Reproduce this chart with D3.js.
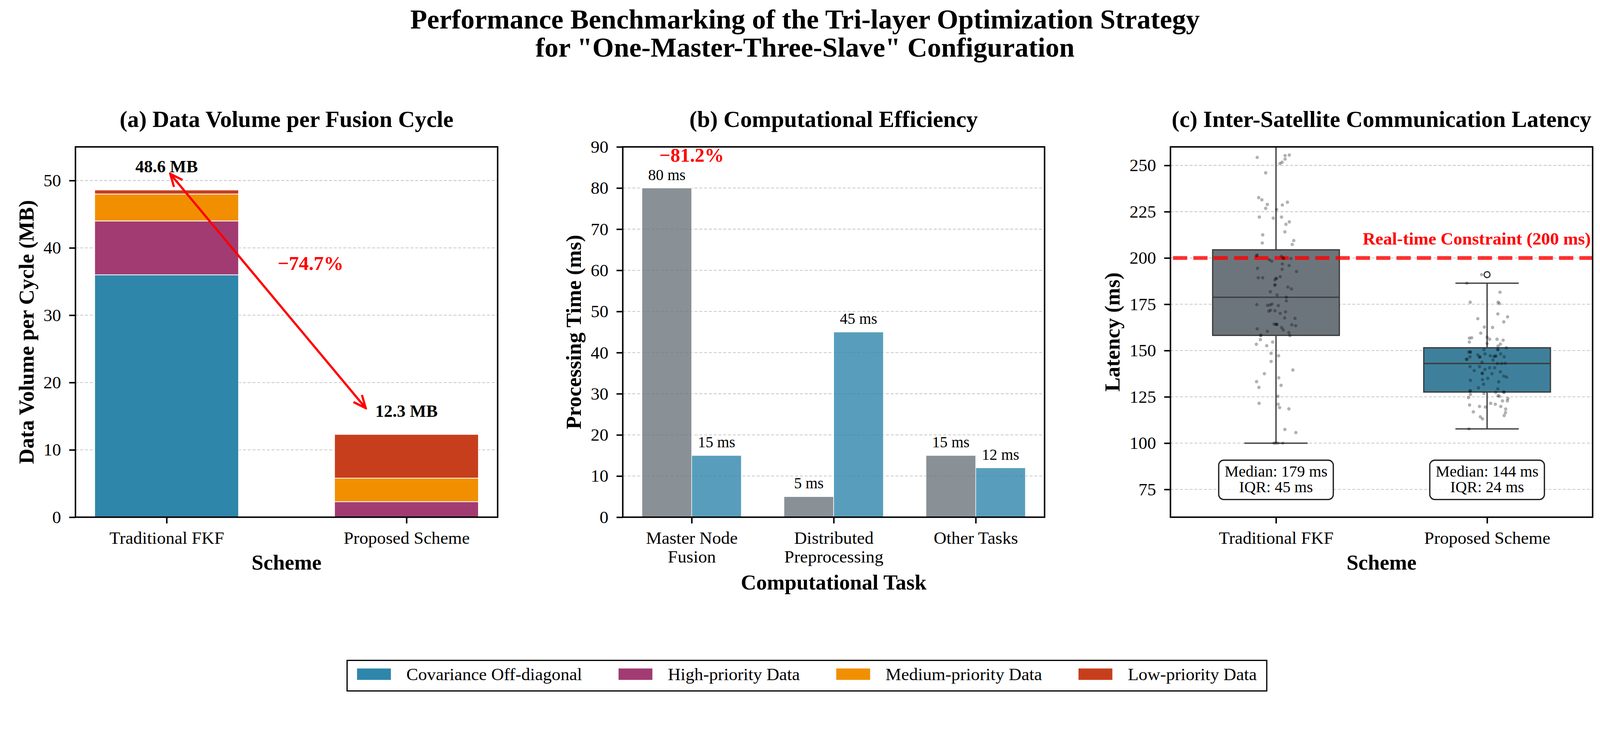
<!DOCTYPE html>
<html>
<head>
<meta charset="utf-8">
<script src="https://cdn.jsdelivr.net/npm/d3@7"></script>
<style>
html, body { margin: 0; padding: 0; background: #fff; overflow: hidden; }
#viz { display: block; width: 100vw; height: auto; aspect-ratio: 4347 / 1907; }
svg text { font-family: 'Liberation Serif', 'Times New Roman', serif; }
</style>
</head>
<body>
<svg id="viz"></svg>
<script>
// ---- data ----
const schemes = ["Traditional FKF", "Proposed Scheme"];
const dataTypes = ["Covariance Off-diagonal", "High-priority Data", "Medium-priority Data", "Low-priority Data"];
const typeColors = ["#2E86AB", "#A23B72", "#F18F01", "#C73E1D"];
const volTraditional = [36, 8, 4, 0.6];
const volProposed = [0, 2.3, 3.5, 6.5];
const volTotals = [48.6, 12.3];
const volTicks = [0, 10, 20, 30, 40, 50];
const volReduction = "\u221274.7%";
const arrowFrom = [0.015, 51];
const arrowTo = [0.83, 16.2];
const reductionPosA = [0.6, 37.7];

const tasks = [["Master Node", "Fusion"], ["Distributed", "Preprocessing"], ["Other Tasks"]];
const timeTraditional = [80, 5, 15];
const timeProposed = [15, 45, 12];
const timeTicks = [0, 10, 20, 30, 40, 50, 60, 70, 80, 90];
const timeReduction = "\u221281.2%";
const reductionPosB = [0, 88];

// latency samples, with their horizontal jitter
const latTrad = [254.3, 255.3, 255.6, 253.4, 251.7, 251.0, 246.0, 232.6, 231.4, 230.1, 228.9, 228.6, 226.8, 226.2,
  222.1, 221.5, 222.1, 219.5, 218.2, 214.1, 212.5, 208.1, 209.4, 207.3, 201.3, 199.0, 198.3, 200.9, 199.9, 199.7,
  196.8, 195.9, 194.4, 193.9, 192.7, 189.3, 189.3, 189.9, 188.9, 188.1, 185.3, 184.3, 183.3, 181.8, 180.0, 178.8,
  176.8, 174.8, 174.4, 174.6, 175.1, 174.3, 171.3, 171.8, 171.5, 170.1, 170.9, 167.6, 167.4, 164.3, 164.1, 164.1,
  163.9, 163.4, 162.4, 161.1, 161.7, 160.4, 159.7, 158.1, 158.1, 155.9, 153.4, 152.6, 154.6, 148.5, 147.2, 144.1,
  139.5, 137.5, 135.3, 133.2, 131.2, 130.1, 125.3, 121.5, 121.0, 119.2, 118.5, 107.4, 105.7, 100, 100, 100, 100,
  263, 266, 201.5, 199.8, 189.0, 185.5, 164.2, 158.3];
const jitTrad = [-0.089, 0.043, 0.063, 0.043, 0.029, 0.019, -0.049, -0.082, -0.067, 0.054, -0.041, 0.030, -0.049, 0.003,
  -0.079, -0.013, 0.026, 0.063, 0.047, 0.042, -0.063, -0.065, 0.084, 0.077, -0.092, -0.031, -0.020, 0.026, 0.034, 0.071,
  0.030, 0.062, -0.088, 0.029, 0.097, -0.084, -0.063, 0.020, 0.000, -0.006, -0.006, 0.056, 0.073, -0.027, 0.005, 0.049,
  0.049, -0.091, -0.040, -0.028, -0.019, 0.011, -0.034, -0.026, -0.005, 0.020, 0.045, 0.041, 0.090, -0.009, 0.000, 0.005,
  0.075, 0.093, 0.027, 0.034, -0.089, -0.041, 0.061, 0.066, -0.073, -0.074, -0.093, -0.044, -0.016, -0.023, 0.012, -0.023,
  0.080, -0.055, 0.013, -0.092, 0.024, -0.081, 0.009, -0.080, 0.010, 0.017, 0.061, 0.042, 0.094, -0.010, -0.002, 0.009, 0.032,
  0.020, -0.050, -0.090, 0.036, 0.002, -0.004, 0.002, -0.071];
const latProp = [191.0, 186.4, 181.5, 176.1, 176.1, 175.4, 169.8, 168.2, 167.2, 165.5, 162.7, 162.5, 159.4, 157.2,
  156.7, 156.9, 156.1, 156.1, 155.6, 154.6, 153.8, 153.5, 152.4, 151.5, 150.5, 150.5, 149.2, 149.2, 148.2, 148.2,
  147.6, 146.5, 147.2, 146.8, 147.0, 146.6, 146.6, 145.3, 144.9, 143.7, 143.0, 143.0, 143.1, 141.3, 141.3, 140.7,
  140.7, 139.2, 137.7, 137.5, 138.5, 136.2, 135.7, 133.9, 134.3, 131.8, 133.1, 129.9, 129.3, 128.1, 127.4, 127.4,
  126.3, 126.8, 124.6, 125.6, 125.3, 124.1, 122.8, 122.8, 120.6, 119.8, 119.5, 121.5, 121.0, 119.8, 118.4, 116.5,
  114.9, 116.9, 114.2, 113.1, 107.7,
  145.3, 146.5, 137.7, 149.2, 150.5, 147.0, 127.6, 128.3, 135.0, 139.8];
const jitProp = [-0.026, -0.096, 0.061, -0.080, 0.052, 0.058, 0.051, 0.097, -0.044, 0.079, -0.013, 0.026, -0.030, 0.000,
  -0.084, -0.073, 0.012, 0.047, 0.076, -0.084, 0.000, 0.063, 0.052, 0.091, -0.015, 0.052, -0.087, -0.079, -0.010, 0.064,
  -0.044, -0.035, 0.015, 0.032, 0.041, -0.081, 0.081, -0.098, 0.028, -0.024, 0.049, 0.069, 0.086, -0.081, -0.036, 0.012,
  0.036, -0.061, -0.024, 0.023, 0.063, 0.079, 0.092, -0.079, -0.022, -0.017, 0.055, -0.041, 0.051, -0.080, 0.080, 0.041,
  -0.079, -0.015, -0.088, 0.052, 0.058, 0.098, 0.073, 0.096, -0.083, -0.036, -0.008, 0.017, 0.039, 0.065, 0.088, 0.087,
  0.081, -0.065, -0.032, -0.022, -0.086,
  -0.095, -0.034, -0.022, -0.080, 0.050, 0.040, 0.079, -0.080, 0.003, -0.010];
const boxColors = ["#6D757C", "#3E809B"];
const latTicks = [75, 100, 125, 150, 175, 200, 225, 250];
const constraint = 200;
const constraintLabel = "Real-time Constraint (200 ms)";
const statLabels = [["Median: 179 ms", "IQR: 45 ms"], ["Median: 144 ms", "IQR: 24 ms"]];
const statY = 80;

// ---- drawing ----
const W = 4347, H = 1907;
const svg = d3.select("#viz").attr("viewBox", `0 0 ${W} ${H}`);
svg.append("rect").attr("width", W).attr("height", H).attr("fill", "#fff");

const TICK = 48, LAB = 58, TTL = 63;
const A = {l: 205, r: 1352, t: 399, b: 1405};
const B = {l: 1692, r: 2838, t: 399, b: 1405};
const C = {l: 3180, r: 4327, t: 399, b: 1405};

function grid(p, y, ticks) {
    svg.append("g").selectAll("line").data(ticks).enter().append("line")
        .attr("x1", p.l).attr("x2", p.r).attr("y1", d => y(d)).attr("y2", d => y(d))
        .attr("stroke", "#c8c8c8").attr("stroke-width", 2.2).attr("stroke-dasharray", "8,5");
}

function axes(p, x, y, yTicks, labels, xTitle, yTitle, yTitleX, xTitleY, title) {
    const ya = svg.append("g").attr("transform", `translate(${p.l},0)`)
        .call(d3.axisLeft(y).tickValues(yTicks).tickSize(17).tickPadding(22));
    const xa = svg.append("g").attr("transform", `translate(0,${p.b})`)
        .call(d3.axisBottom(x).tickValues(d3.range(labels.length)).tickSize(17).tickPadding(21).tickFormat(""));
    [ya, xa].forEach(a => {
        a.select(".domain").remove();
        a.selectAll("line").attr("stroke", "#000").attr("stroke-width", 4);
        a.selectAll("text").attr("font-size", TICK).attr("fill", "#000").attr("font-family", null);
    });
    xa.selectAll("text").each(function(d) {
        const lines = [].concat(labels[d]);
        const t = d3.select(this);
        lines.forEach((s, k) => t.append("tspan").attr("x", 0).attr("dy", k === 0 ? "0.71em" : 51).text(s));
    }).attr("dy", null);
    svg.append("rect").attr("x", p.l).attr("y", p.t).attr("width", p.r - p.l).attr("height", p.b - p.t)
        .attr("fill", "none").attr("stroke", "#000").attr("stroke-width", 4);
    svg.append("text").attr("x", (p.l + p.r) / 2).attr("y", xTitleY).attr("text-anchor", "middle")
        .attr("font-size", LAB).attr("font-weight", "bold").text(xTitle);
    svg.append("text").attr("transform", `translate(${yTitleX},${(p.t + p.b) / 2}) rotate(-90)`)
        .attr("text-anchor", "middle").attr("dominant-baseline", "central")
        .attr("font-size", LAB).attr("font-weight", "bold").text(yTitle);
    svg.append("text").attr("x", (p.l + p.r) / 2).attr("y", 345).attr("text-anchor", "middle")
        .attr("font-size", TTL).attr("font-weight", "bold").text(title);
}

// main title
svg.append("text").attr("x", 2187).attr("y", 77).attr("text-anchor", "middle").attr("font-size", 75)
    .attr("font-weight", "bold").text("Performance Benchmarking of the Tri-layer Optimization Strategy");
svg.append("text").attr("x", 2187).attr("y", 154).attr("text-anchor", "middle").attr("font-size", 75)
    .attr("font-weight", "bold").text("for \"One-Master-Three-Slave\" Configuration");

// (a) stacked data volume
{
    const x = d3.scaleLinear().domain([-0.38, 1.38]).range([A.l, A.r]);
    const y = d3.scaleLinear().domain([0, 55]).range([A.b, A.t]);
    grid(A, y, volTicks);
    const rows = [volTraditional, volProposed].map((v, i) => {
        const o = {i};
        dataTypes.forEach((k, j) => o[k] = v[j]);
        return o;
    });
    const stack = d3.stack().keys(dataTypes)(rows);
    svg.append("g").selectAll("g").data(stack).enter().append("g")
        .attr("fill", (d, j) => typeColors[j])
        .selectAll("rect").data(d => d).enter().append("rect")
        .attr("x", d => x(d.data.i - 0.3)).attr("width", x(0.6) - x(0))
        .attr("y", d => y(d[1])).attr("height", d => y(d[0]) - y(d[1]))
        .attr("stroke", "#fff").attr("stroke-width", d => d[1] > d[0] ? 2 : 0);
    svg.append("g").selectAll("text").data(volTotals).enter().append("text")
        .attr("x", (d, i) => x(i)).attr("y", d => y(d + 2.6)).attr("text-anchor", "middle")
        .attr("font-size", 47).attr("font-weight", "bold").text(d => `${d} MB`);

    const defs = svg.append("defs");
    defs.append("marker").attr("id", "vhead").attr("viewBox", "-40 -20 44 40").attr("refX", 0).attr("refY", 0)
        .attr("markerUnits", "userSpaceOnUse").attr("markerWidth", 44).attr("markerHeight", 40)
        .attr("orient", "auto-start-reverse")
        .append("path").attr("d", "M-34,-15 L0,0 L-34,15").attr("fill", "none")
        .attr("stroke", "#FF0000").attr("stroke-width", 6).attr("stroke-linejoin", "miter");
    svg.append("line").attr("x1", x(arrowFrom[0])).attr("y1", y(arrowFrom[1]))
        .attr("x2", x(arrowTo[0])).attr("y2", y(arrowTo[1]))
        .attr("stroke", "#FF0000").attr("stroke-width", 6)
        .attr("marker-start", "url(#vhead)").attr("marker-end", "url(#vhead)");
    svg.append("text").attr("x", x(reductionPosA[0])).attr("y", y(reductionPosA[1]))
        .attr("text-anchor", "middle").attr("dominant-baseline", "central")
        .attr("font-size", 54).attr("font-weight", "bold").attr("fill", "#FF0000").text(volReduction);

    axes(A, x, y, volTicks, schemes, "Scheme", "Data Volume per Cycle (MB)", 72, 1547,
        "(a) Data Volume per Fusion Cycle");
}

// (b) computational efficiency
{
    const x = d3.scaleLinear().domain([-0.485, 2.485]).range([B.l, B.r]);
    const y = d3.scaleLinear().domain([0, 90]).range([B.b, B.t]);
    grid(B, y, timeTicks);
    const series = [
        {vals: timeTraditional, off: -0.175, color: "#6C757D"},
        {vals: timeProposed, off: 0.175, color: "#2E86AB"}
    ];
    series.forEach(s => {
        const g = svg.append("g");
        g.selectAll("rect").data(s.vals).enter().append("rect")
            .attr("x", (d, i) => x(i + s.off - 0.175)).attr("width", x(0.35) - x(0))
            .attr("y", d => y(d)).attr("height", d => y(0) - y(d))
            .attr("fill", s.color).attr("fill-opacity", 0.8)
            .attr("stroke", "#fff").attr("stroke-width", 1.5);
        g.selectAll("text").data(s.vals).enter().append("text")
            .attr("x", (d, i) => x(i + s.off)).attr("y", d => y(d) - 22)
            .attr("text-anchor", "middle").attr("font-size", 42).text(d => `${d} ms`);
    });
    svg.append("text").attr("x", x(reductionPosB[0])).attr("y", y(reductionPosB[1]))
        .attr("text-anchor", "middle").attr("dominant-baseline", "central")
        .attr("font-size", 53).attr("font-weight", "bold").attr("fill", "#FF0000").text(timeReduction);
    axes(B, x, y, timeTicks, tasks, "Computational Task", "Processing Time (ms)", 1559, 1602,
        "(b) Computational Efficiency");
}

// (c) latency box + strip
{
    const x = d3.scaleLinear().domain([-0.5, 1.5]).range([C.l, C.r]);
    const y = d3.scaleLinear().domain([60, 260]).range([C.b, C.t]);
    grid(C, y, latTicks);
    svg.append("clipPath").attr("id", "clipC").append("rect")
        .attr("x", C.l).attr("y", C.t).attr("width", C.r - C.l).attr("height", C.b - C.t);
    const plot = svg.append("g").attr("clip-path", "url(#clipC)");

    const groups = [{vals: latTrad, jit: jitTrad}, {vals: latProp, jit: jitProp}].map((g, i) => {
        const s = g.vals.slice().sort(d3.ascending);
        const q1 = d3.quantileSorted(s, 0.25), med = d3.quantileSorted(s, 0.5), q3 = d3.quantileSorted(s, 0.75);
        const iqr = q3 - q1;
        const lo = d3.min(s.filter(v => v >= q1 - 1.5 * iqr));
        const hi = d3.max(s.filter(v => v <= q3 + 1.5 * iqr));
        return {i, q1, med, q3, lo, hi, out: s.filter(v => v < lo || v > hi), vals: g.vals, jit: g.jit};
    });
    const EDGE = "#3C3C3C";
    groups.forEach(g => {
        const gg = plot.append("g");
        gg.append("line").attr("x1", x(g.i)).attr("x2", x(g.i)).attr("y1", y(g.q3)).attr("y2", y(g.hi))
            .attr("stroke", EDGE).attr("stroke-width", 3.5);
        gg.append("line").attr("x1", x(g.i)).attr("x2", x(g.i)).attr("y1", y(g.q1)).attr("y2", y(g.lo))
            .attr("stroke", EDGE).attr("stroke-width", 3.5);
        [g.lo, g.hi].forEach(v => gg.append("line").attr("x1", x(g.i - 0.15)).attr("x2", x(g.i + 0.15))
            .attr("y1", y(v)).attr("y2", y(v)).attr("stroke", EDGE).attr("stroke-width", 3.5));
        gg.append("rect").attr("x", x(g.i - 0.3)).attr("width", x(0.6) - x(0))
            .attr("y", y(g.q3)).attr("height", y(g.q1) - y(g.q3))
            .attr("fill", boxColors[g.i]).attr("stroke", EDGE).attr("stroke-width", 3.5);
        gg.append("line").attr("x1", x(g.i - 0.3)).attr("x2", x(g.i + 0.3)).attr("y1", y(g.med)).attr("y2", y(g.med))
            .attr("stroke", EDGE).attr("stroke-width", 3.5);
        gg.selectAll("circle").data(g.out).enter().append("circle")
            .attr("cx", x(g.i)).attr("cy", d => y(d)).attr("r", 8)
            .attr("fill", "none").attr("stroke", EDGE).attr("stroke-width", 3.5);
    });
    plot.append("line").attr("x1", C.l).attr("x2", C.r).attr("y1", y(constraint)).attr("y2", y(constraint))
        .attr("stroke", "#FF0000").attr("stroke-opacity", 0.8).attr("stroke-width", 10.4)
        .attr("stroke-dasharray", "38.5,16.7").attr("stroke-dashoffset", -7);
    groups.forEach(g => {
        plot.append("g").selectAll("circle").data(g.vals).enter().append("circle")
            .attr("cx", (d, k) => x(g.i + g.jit[k])).attr("cy", d => y(d)).attr("r", 4.6)
            .attr("fill", "#000").attr("fill-opacity", 0.3);
    });
    svg.append("text").attr("x", 4322).attr("y", y(constraint) - 36).attr("text-anchor", "end")
        .attr("font-size", 48).attr("font-weight", "bold").attr("fill", "#FF0000").text(constraintLabel);

    statLabels.forEach((lines, i) => {
        const g = svg.append("g");
        const t = g.append("text").attr("text-anchor", "middle").attr("font-size", 43);
        t.append("tspan").attr("x", x(i)).attr("y", y(statY) - 10).text(lines[0]);
        t.append("tspan").attr("x", x(i)).attr("y", y(statY) + 33).text(lines[1]);
        const bb = t.node().getBBox();
        g.insert("rect", "text").attr("x", bb.x - 16).attr("y", bb.y - 6)
            .attr("width", bb.width + 32).attr("height", bb.height + 16).attr("rx", 14)
            .attr("fill", "#fff").attr("fill-opacity", 0.8).attr("stroke", "#222").attr("stroke-width", 3.5);
    });
    axes(C, x, y, latTicks, schemes, "Scheme", "Latency (ms)", 3022, 1547,
        "(c) Inter-Satellite Communication Latency");
}

// legend
{
    const lg = svg.append("g");
    let pos = 970;
    dataTypes.forEach((k, j) => {
        lg.append("rect").attr("x", pos).attr("y", 1816).attr("width", 92).attr("height", 31).attr("fill", typeColors[j]);
        const t = lg.append("text").attr("x", pos + 134).attr("y", 1848).attr("font-size", 48).text(k);
        pos += 134 + t.node().getComputedTextLength() + 99;
    });
    const right = pos - 99 + 27;
    lg.insert("rect", ":first-child").attr("x", 943).attr("y", 1794).attr("width", right - 943).attr("height", 83)
        .attr("fill", "#fff").attr("stroke", "#000").attr("stroke-width", 3.3);
}
</script>
</body>
</html>
